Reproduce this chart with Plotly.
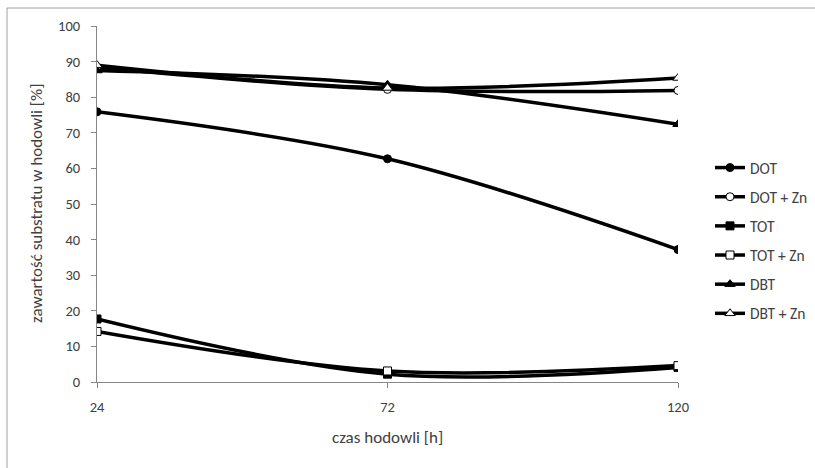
import plotly.graph_objects as go

# Culture time [h]
hours = [24, 72, 120]

# Substrate content in the culture [%]
dot = [75.9, 62.7, 37.2]
dot_zn = [88.4, 82.2, 81.9]
tot = [17.7, 2.2, 4.1]
tot_zn = [14.2, 3.1, 4.6]
dbt = [87.5, 83.5, 72.4]
dbt_zn = [89.0, 82.6, 85.4]

y_ticks = [0, 10, 20, 30, 40, 50, 60, 70, 80, 90, 100]

series = [
    ("DOT", dot, "circle"),
    ("DOT + Zn", dot_zn, "circle-open"),
    ("TOT", tot, "square"),
    ("TOT + Zn", tot_zn, "square-open"),
    ("DBT", dbt, "triangle-up"),
    ("DBT + Zn", dbt_zn, "triangle-up-open"),
]

FONT = "Calibri, Carlito, Roboto, sans-serif"
TEXT = "#404040"
AXIS = "#868686"
TICK_SIZE = 14.5
LEGEND_SIZE = 15.5
TITLE_SIZE = 17

fig = go.Figure()
for name, vals, sym in series:
    open_marker = sym.endswith("-open")
    fig.add_trace(go.Scatter(
        x=hours, y=vals, name=name, legendgroup=name,
        mode="lines+markers",
        line=dict(color="black", width=3.5, shape="spline", smoothing=1),
        marker=dict(
            symbol=sym.replace("-open", ""),
            size=8 if "triangle" not in sym else 9,
            color="white" if open_marker else "black",
            line=dict(color="black", width=1),
        ),
    ))

W, H = 815, 468
L, R, T, B = 97, 137, 26, 86
pw, ph = W - L - R, H - T - B


def px(x):
    return (x - L) / pw


def py(y):
    return (H - B - y) / ph


fig.update_layout(
    width=W, height=H,
    margin=dict(l=L, r=R, t=T, b=B, autoexpand=False),
    paper_bgcolor="white", plot_bgcolor="white",
    font=dict(family=FONT, size=TICK_SIZE, color=TEXT),
    showlegend=True,
    legend=dict(
        x=px(710), y=py(151), xanchor="left", yanchor="top",
        traceorder="grouped", tracegroupgap=6,
        font=dict(family=FONT, size=LEGEND_SIZE, color=TEXT),
        bgcolor="rgba(0,0,0,0)", itemwidth=30,
    ),
    xaxis=dict(
        range=[24, 120], tickvals=hours, ticktext=[str(h) for h in hours],
        showgrid=False, zeroline=False, showline=True, linecolor=AXIS, linewidth=1,
        ticks="outside", ticklen=5, tickcolor=AXIS, ticklabelstandoff=7,
        tickfont=dict(family=FONT, size=TICK_SIZE, color=TEXT),
    ),
    yaxis=dict(
        range=[0, 100], tickvals=y_ticks,
        showgrid=False, zeroline=False, showline=True, linecolor=AXIS, linewidth=1,
        ticks="outside", ticklen=5, tickcolor=AXIS, ticklabelstandoff=8,
        tickfont=dict(family=FONT, size=TICK_SIZE, color=TEXT),
    ),
    shapes=[dict(
        type="rect", xref="paper", yref="paper",
        x0=px(7), x1=px(W + 5), y0=py(H + 5), y1=py(8),
        line=dict(color="#a0a0a0", width=1), fillcolor="rgba(0,0,0,0)", layer="below",
    )],
    annotations=[
        dict(text="zawartość substratu w hodowli [%]", xref="paper", yref="paper",
             x=px(36), y=0.5, textangle=-90, showarrow=False,
             xanchor="center", yanchor="middle",
             font=dict(family=FONT, size=TITLE_SIZE, color=TEXT)),
        dict(text="czas hodowli [h]", xref="paper", yref="paper",
             x=0.5, y=py(437), showarrow=False,
             xanchor="center", yanchor="middle",
             font=dict(family=FONT, size=TITLE_SIZE, color=TEXT)),
    ],
)

fig.write_html("out.html")
